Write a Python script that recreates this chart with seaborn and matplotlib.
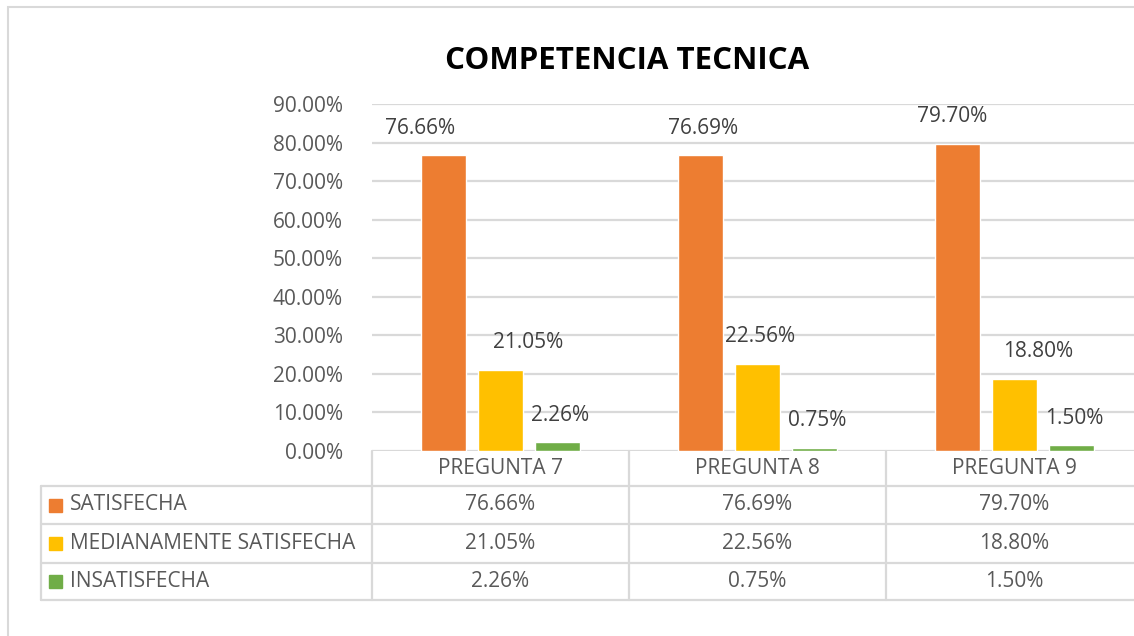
import numpy as np
import pandas as pd
import seaborn as sns
import matplotlib.pyplot as plt
import matplotlib.transforms as mtransforms
from matplotlib.patches import Rectangle
from matplotlib.ticker import FuncFormatter

# data
preguntas = ["PREGUNTA 7", "PREGUNTA 8", "PREGUNTA 9"]
series = ["SATISFECHA", "MEDIANAMENTE SATISFECHA", "INSATISFECHA"]
satisfecha = [0.7666, 0.7669, 0.7970]
medianamente = [0.2105, 0.2256, 0.1880]
insatisfecha = [0.0226, 0.0075, 0.0150]
yticks = np.arange(0, 0.91, 0.10)

colors = ["#ED7D31", "#FFC000", "#70AD47"]
grid_c = "#d9d9d9"
text_c = "#595959"
label_c = "#404040"
fs = 15

# small manual nudges (pixels) of the data labels, as in the original
nudges = [[-23, 3, -5], [28, 3, 24], [3, 3, 3]]

df = pd.DataFrame({
    "pregunta": preguntas * 3,
    "serie": [s for s in series for _ in preguntas],
    "valor": satisfecha + medianamente + insatisfecha,
})

sns.set_theme(style="white")
plt.rcParams["font.family"] = ["Open Sans", "DejaVu Sans"]

W, H = 1134, 636
col_px = 257
fig = plt.figure(figsize=(W / 100, H / 100), dpi=100)
ax = fig.add_axes([372 / W, 1 - 451 / H, 3 * col_px / W, (451 - 104) / H])

sns.barplot(data=df, x="pregunta", y="valor", hue="serie", hue_order=series,
            palette=colors, width=0.665, gap=0.21, saturation=1, legend=False, ax=ax)

ax.set_xlim(-0.5, 2.5)
ax.set_ylim(0, 0.9)
ax.set_yticks(yticks)
ax.yaxis.set_major_formatter(FuncFormatter(lambda v, _: f"{v:.2%}"))
ax.tick_params(axis="y", labelsize=fs, colors=text_c, length=0, pad=21)
ax.set_xticks([])
ax.set_xlabel("")
ax.set_ylabel("")
ax.grid(axis="y", color=grid_c, lw=1.6)
ax.set_axisbelow(True)
for sp in ax.spines.values():
    sp.set_visible(False)

vals = [satisfecha, medianamente, insatisfecha]
for k, cont in enumerate(ax.containers):
    anns = ax.bar_label(cont, labels=[f"{v:.2%}" for v in vals[k]], padding=12,
                        fontsize=fs, color=label_c)
    for j, a in enumerate(anns):
        a.xyann = (nudges[k][j] * 0.72, 12)

# data table under the chart
tr = mtransforms.blended_transform_factory(ax.transData, ax.transAxes)
ph = 451 - 104


def yax(py):
    return (451 - py) / ph


x_left = (41 - 372) / col_px - 0.5
line_kw = dict(color=grid_c, lw=1.6, transform=tr, clip_on=False)
for py in [486, 524, 563, 600]:
    ax.plot([x_left, 2.6], [yax(py), yax(py)], **line_kw)
ax.plot([x_left, x_left], [yax(486), yax(600)], **line_kw)
for xb in [-0.5, 0.5, 1.5]:
    ax.plot([xb, xb], [yax(451), yax(600)], **line_kw)

for i, p in enumerate(preguntas):
    ax.text(i, yax(468), p, transform=tr, ha="center", va="center",
            fontsize=fs, color=text_c)

row_centers = [505, 543.5, 581.5]
for k, s in enumerate(series):
    yc = yax(row_centers[k])
    ax.add_patch(Rectangle((x_left + 8 / col_px, yc - 6.5 / ph), 13 / col_px, 13 / ph,
                           color=colors[k], transform=tr, clip_on=False))
    ax.text(x_left + 29 / col_px, yc, s, transform=tr, ha="left", va="center",
            fontsize=fs, color=text_c)
    for i in range(len(preguntas)):
        ax.text(i, yc, f"{vals[k][i]:.2%}", transform=tr, ha="center", va="center",
                fontsize=fs, color=text_c)

fig.text(627 / W, 1 - 61 / H, "COMPETENCIA TECNICA", ha="center", va="center",
         fontsize=22.5, fontweight="bold", color="black")

fig.patches.append(Rectangle((8 / W, -0.1), 1.2, 1.1 - 7 / H, fill=False,
                             ec=grid_c, lw=1.5, transform=fig.transFigure))

fig.savefig("out.png", dpi=100)
